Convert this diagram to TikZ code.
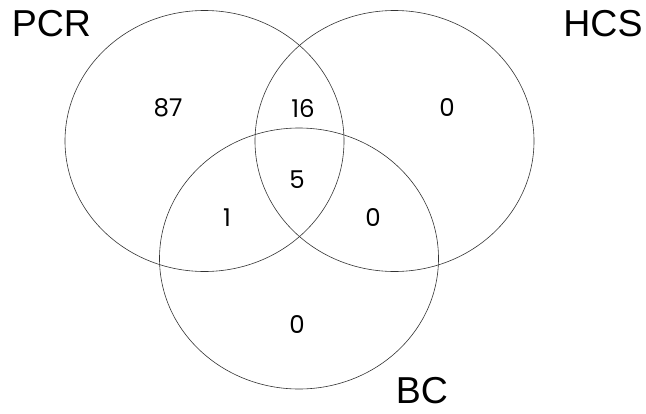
\documentclass[tikz,border=0pt]{standalone}
\usepackage{fontspec}
\setmainfont{Liberation Sans}
\newfontfamily\numfont{Poppins}
\usetikzlibrary{shapes.geometric}
\tikzset{
  setring/.style={draw=black!80, line width=0.6pt, ellipse, inner sep=0pt,
    minimum width=279pt, minimum height=261pt},
  setlabel/.style={font=\fontsize{37.5}{40}\selectfont, inner sep=0pt},
  count/.style={font=\numfont\fontsize{24.5}{26}\selectfont, inner sep=0pt}
}
\begin{document}
\begin{tikzpicture}[x=1pt,y=-1pt]
\useasboundingbox[fill=white] (0,0) rectangle (646,413);
\node[setring] (pcr) at (204.5,141) {};
\node[setring] (hcs) at (394.5,141) {};
\node[setring] (bc) at (299,258.5) {};
\node[setlabel] (lpcr) at (51.5,24) {PCR};
\node[setlabel] (lhcs) at (603,24) {HCS};
\node[setlabel] (lbc) at (422,391) {BC};
\node[count] (n1) at (168,108) {87};
\node[count] (n2) at (303,108) {16};
\node[count] (n3) at (447,108) {0};
\node[count] (n4) at (297,180) {5};
\node[count] (n5) at (227,218) {1};
\node[count] (n6) at (373,218) {0};
\node[count] (n7) at (297,325) {0};
\end{tikzpicture}
\end{document}
